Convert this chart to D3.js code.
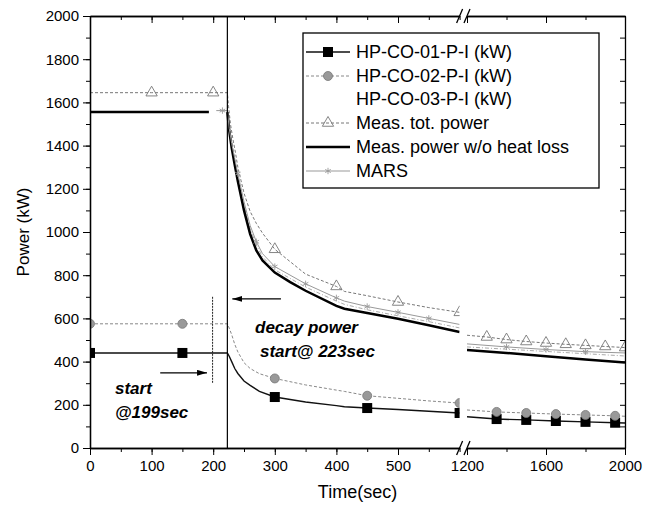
<!DOCTYPE html>
<html>
<head>
<meta charset="utf-8">
<script src="https://cdn.jsdelivr.net/npm/d3@7"></script>
<style>
  body { margin: 0; background: #fff; }
  text { font-family: "Liberation Sans", Arial, sans-serif; }
</style>
</head>
<body>
<div id="chart"></div>
<script>
// ---- data ----
const hp01Time  = [0, 150, 223, 226, 230, 235, 240, 250, 260, 275, 300, 350, 400, 413, 450, 500, 550, 600, 1200, 1350, 1500, 1650, 1800, 1950, 2000];
const hp01Power = [440, 440, 440, 425, 400, 368, 345, 310, 290, 262, 236, 213, 196, 191, 185, 178, 170, 162, 145, 134, 130, 125, 121, 117, 116];
const hp01Marks = [0, 150, 300, 450, 600, 1350, 1500, 1650, 1800, 1950];

const hp02Time  = [0, 150, 223, 226, 230, 235, 240, 250, 260, 275, 300, 350, 400, 413, 450, 500, 550, 600, 1200, 1350, 1500, 1650, 1800, 1950, 2000];
const hp02Power = [575, 575, 575, 555, 525, 480, 445, 395, 368, 344, 322, 292, 268, 262, 242, 230, 218, 208, 176, 167, 162, 157, 153, 149, 147];
const hp02Marks = [0, 150, 300, 450, 600, 1350, 1500, 1650, 1800, 1950];

const hp03Time  = [223, 226, 230, 235, 240, 250, 260, 270, 280, 300, 350, 400, 413, 450, 500, 550, 600, 1200, 1600, 2000];
const hp03Power = [1560, 1470, 1400, 1325, 1255, 1125, 1015, 940, 885, 825, 745, 680, 665, 640, 612, 585, 556, 468, 447, 426];

const totTime  = [0, 100, 200, 223, 225, 228, 232, 236, 240, 245, 250, 260, 270, 280, 300, 350, 400, 413, 450, 500, 550, 600, 1200, 1300, 1400, 1500, 1600, 1700, 1800, 1900, 2000];
const totPower = [1645, 1645, 1645, 1645, 1580, 1500, 1430, 1370, 1300, 1240, 1180, 1095, 1040, 995, 920, 805, 748, 725, 705, 676, 650, 628, 522, 514, 502, 493, 486, 480, 475, 470, 465];
const totMarks = [100, 200, 300, 400, 500, 600, 1300, 1400, 1500, 1600, 1700, 1800, 1900, 2000];

// null = gap in the thick line between 193 s and 223 s
const woTime  = [0, 193, 210, 223, 226, 230, 235, 240, 250, 260, 270, 280, 300, 325, 350, 400, 413, 450, 500, 550, 600, 1200, 1400, 1600, 1800, 2000];
const woPower = [1555, 1555, null, 1555, 1470, 1390, 1310, 1235, 1100, 990, 915, 868, 812, 768, 728, 658, 645, 625, 598, 568, 537, 454, 440, 425, 410, 396];

const marsTime  = [205, 215, 223, 226, 230, 235, 240, 250, 260, 270, 280, 300, 350, 400, 413, 450, 500, 550, 600, 1200, 1400, 1600, 1800, 2000];
const marsPower = [1562, 1562, 1562, 1480, 1410, 1340, 1270, 1140, 1030, 955, 900, 840, 760, 695, 680, 655, 628, 600, 572, 482, 468, 456, 446, 440];
const marsMarks = [215, 240, 270, 300, 350, 400, 450, 500, 550, 1400, 1600, 1800];

const xTicksLeft = [0, 100, 200, 300, 400, 500];
const xTicksRight = [1200, 1600, 2000];
const yTicks = [0, 200, 400, 600, 800, 1000, 1200, 1400, 1600, 1800, 2000];

const width = 655, height = 511;
const plot = { left: 90, right: 625, top: 16, bottom: 448 };

const xL = d3.scaleLinear().domain([0, 600]).range([plot.left, 459.6]);
const xR = d3.scaleLinear().domain([1200, 2000]).range([467, plot.right]);
const y = d3.scaleLinear().domain([0, 2000]).range([plot.bottom, plot.top]);
const px = (t) => (t <= 600 ? xL(t) : xR(t));
const fmt = d3.format("d");

const series = [
  { name: "HP-CO-01-P-I (kW)", t: hp01Time, v: hp01Power, marks: hp01Marks,
    stroke: "#111", w: 1.4, dash: null, sym: "square" },
  { name: "HP-CO-02-P-I (kW)", t: hp02Time, v: hp02Power, marks: hp02Marks,
    stroke: "#888", w: 1, dash: "3,2", sym: "circle" },
  { name: "HP-CO-03-P-I (kW)", t: hp03Time, v: hp03Power, marks: [],
    stroke: "#aaa", w: 1, dash: "4,2,1,2", sym: null, noLegendLine: true },
  { name: "Meas. tot. power", t: totTime, v: totPower, marks: totMarks,
    stroke: "#777", w: 1, dash: "3,2", sym: "triangle" },
  { name: "Meas. power w/o heat loss", t: woTime, v: woPower, marks: [],
    stroke: "#000", w: 2.5, dash: null, sym: null },
  { name: "MARS", t: marsTime, v: marsPower, marks: marsMarks,
    stroke: "#999", w: 1, dash: null, sym: "star" },
];

const svg = d3.select("#chart").append("svg")
  .attr("width", width).attr("height", height);

const defs = svg.append("defs");
defs.append("clipPath").attr("id", "clipL").append("rect")
  .attr("x", plot.left).attr("y", 0).attr("width", xL(600) - plot.left).attr("height", height);
defs.append("clipPath").attr("id", "clipR").append("rect")
  .attr("x", xR(1200)).attr("y", 0).attr("width", plot.right - xR(1200)).attr("height", height);

function drawSymbol(g, kind, x, yy) {
  if (kind === "square") {
    g.append("rect").attr("x", x - 5).attr("y", yy - 5).attr("width", 10).attr("height", 10).attr("fill", "#000");
  } else if (kind === "circle") {
    g.append("circle").attr("cx", x).attr("cy", yy).attr("r", 4.5)
      .attr("fill", "#999").attr("stroke", "#777").attr("stroke-width", 0.8);
  } else if (kind === "triangle") {
    g.append("path").attr("d", d3.symbol(d3.symbolTriangle, 55)())
      .attr("transform", `translate(${x},${yy})`)
      .attr("fill", "none").attr("stroke", "#777").attr("stroke-width", 0.9);
  } else if (kind === "star") {
    g.append("path").attr("d", d3.symbol(d3.symbolAsterisk, 28)())
      .attr("transform", `translate(${x},${yy})`)
      .attr("fill", "none").attr("stroke", "#999").attr("stroke-width", 0.9);
  }
}

const line = d3.line()
  .defined((d) => d.v != null)
  .x((d) => px(d.t))
  .y((d) => y(d.v));

// draw the two panels
[["clipL", (t) => t <= 600], ["clipR", (t) => t >= 1200]].forEach(([clip, keep]) => {
  const g = svg.append("g").attr("clip-path", `url(#${clip})`);
  series.forEach((s) => {
    const pts = s.t.map((t, i) => ({ t: t, v: s.v[i] })).filter((d) => keep(d.t));
    g.append("path").datum(pts)
      .attr("d", line)
      .attr("fill", "none")
      .attr("stroke", s.stroke)
      .attr("stroke-width", s.w)
      .attr("stroke-dasharray", s.dash);
  });
  series.forEach((s) => {
    s.marks.filter(keep).forEach((t) => {
      const i = s.t.indexOf(t);
      drawSymbol(g, s.sym, px(t), y(s.v[i]));
    });
  });
});

// vertical line at decay start (223 s)
svg.append("line")
  .attr("x1", xL(223)).attr("x2", xL(223))
  .attr("y1", plot.top).attr("y2", plot.bottom)
  .attr("stroke", "#000").attr("stroke-width", 1.2);

// dashed vertical marker at 199 s
svg.append("line")
  .attr("x1", xL(199)).attr("x2", xL(199))
  .attr("y1", y(700)).attr("y2", y(300))
  .attr("stroke", "#222").attr("stroke-width", 1).attr("stroke-dasharray", "2,1");

// arrows
defs.append("marker").attr("id", "arrow").attr("viewBox", "0 0 10 6")
  .attr("refX", 10).attr("refY", 3).attr("markerWidth", 10).attr("markerHeight", 6)
  .attr("markerUnits", "userSpaceOnUse").attr("orient", "auto")
  .append("path").attr("d", "M0,0L10,3L0,6Z").attr("fill", "#000");

svg.append("line")
  .attr("x1", xL(114)).attr("x2", xL(190))
  .attr("y1", y(348)).attr("y2", y(348))
  .attr("stroke", "#000").attr("stroke-width", 1.2).attr("marker-end", "url(#arrow)");
svg.append("line")
  .attr("x1", xL(310)).attr("x2", xL(231))
  .attr("y1", y(690)).attr("y2", y(690))
  .attr("stroke", "#000").attr("stroke-width", 1.2).attr("marker-end", "url(#arrow)");

const ann = svg.append("g").attr("font-size", 17).attr("font-weight", "bold")
  .attr("font-style", "italic").attr("fill", "#000");
ann.append("text").attr("x", 115).attr("y", 394).text("start");
ann.append("text").attr("x", 115).attr("y", 418).text("@199sec");
ann.append("text").attr("x", 255).attr("y", 333).text("decay power");
ann.append("text").attr("x", 260).attr("y", 357).text("start@ 223sec");

// ---- axes ----
function styleAxis(g, fs) {
  g.selectAll("path.domain").attr("stroke", "#000").attr("stroke-width", 1.3);
  g.selectAll(".tick line").attr("stroke", "#000").attr("stroke-width", 1);
  g.selectAll(".tick text").attr("font-size", fs).attr("fill", "#000")
    .attr("font-family", "'Liberation Sans', Arial, sans-serif");
}

const minorLeft = d3.range(0, 601, 50);
const minorRight = [1200, 1400, 1600, 1800, 2000];
const minorY = d3.range(0, 2001, 100);

// bottom and top
[[xL, xTicksLeft, minorLeft], [xR, xTicksRight, minorRight]].forEach(([sc, major, minor]) => {
  const gm = svg.append("g").attr("transform", `translate(0,${plot.bottom})`)
    .call(d3.axisBottom(sc).tickValues(minor).tickSize(4).tickSizeOuter(0).tickFormat(""));
  styleAxis(gm, 15);
  const g = svg.append("g").attr("transform", `translate(0,${plot.bottom})`)
    .call(d3.axisBottom(sc).tickValues(major).tickSize(7).tickSizeOuter(0).tickPadding(5).tickFormat(fmt));
  styleAxis(g, 15);
  // top, ticks inward
  const gt = svg.append("g").attr("transform", `translate(0,${plot.top})`)
    .call(d3.axisTop(sc).tickValues(minor).tickSize(-4).tickSizeOuter(0).tickFormat(""));
  styleAxis(gt, 15);
  const gt2 = svg.append("g").attr("transform", `translate(0,${plot.top})`)
    .call(d3.axisTop(sc).tickValues(major).tickSize(-7).tickSizeOuter(0).tickFormat(""));
  styleAxis(gt2, 15);
});

// left
const gyMinor = svg.append("g").attr("transform", `translate(${plot.left},0)`)
  .call(d3.axisLeft(y).tickValues(minorY).tickSize(4).tickSizeOuter(0).tickFormat(""));
styleAxis(gyMinor, 15);
const gy = svg.append("g").attr("transform", `translate(${plot.left},0)`)
  .call(d3.axisLeft(y).tickValues(yTicks).tickSize(7).tickSizeOuter(0).tickPadding(4).tickFormat(fmt));
styleAxis(gy, 15);

// right, ticks inward
const gr = svg.append("g").attr("transform", `translate(${plot.right},0)`)
  .call(d3.axisRight(y).tickValues(minorY).tickSize(-5).tickSizeOuter(0).tickFormat(""));
styleAxis(gr, 15);

// axis break marks
[plot.top, plot.bottom].forEach((yy) => {
  [xL(600), xR(1200)].forEach((x) => {
    svg.append("line")
      .attr("x1", x - 3).attr("y1", yy + 7).attr("x2", x + 3).attr("y2", yy - 7)
      .attr("stroke", "#000").attr("stroke-width", 1.3);
  });
});

// axis titles
svg.append("text").attr("x", (plot.left + plot.right) / 2).attr("y", 498)
  .attr("text-anchor", "middle").attr("font-size", 18).text("Time(sec)");
svg.append("text")
  .attr("transform", `translate(29,${(plot.top + plot.bottom) / 2}) rotate(-90)`)
  .attr("text-anchor", "middle").attr("font-size", 17).text("Power (kW)");

// ---- legend ----
const lg = svg.append("g");
lg.append("rect").attr("x", 303).attr("y", 33).attr("width", 296).attr("height", 155)
  .attr("fill", "#fff").attr("stroke", "#000").attr("stroke-width", 1.3);
const rowY = [52, 76, 99, 123, 147, 171];
series.forEach((s, i) => {
  const yy = rowY[i];
  if (!s.noLegendLine) {
    lg.append("line").attr("x1", 306).attr("x2", 350).attr("y1", yy).attr("y2", yy)
      .attr("stroke", s.stroke).attr("stroke-width", s.w).attr("stroke-dasharray", s.dash);
  }
  if (s.sym) drawSymbol(lg, s.sym, 328, yy);
  lg.append("text").attr("x", 356).attr("y", yy + 6).attr("font-size", 18).text(s.name);
});
</script>
</body>
</html>
